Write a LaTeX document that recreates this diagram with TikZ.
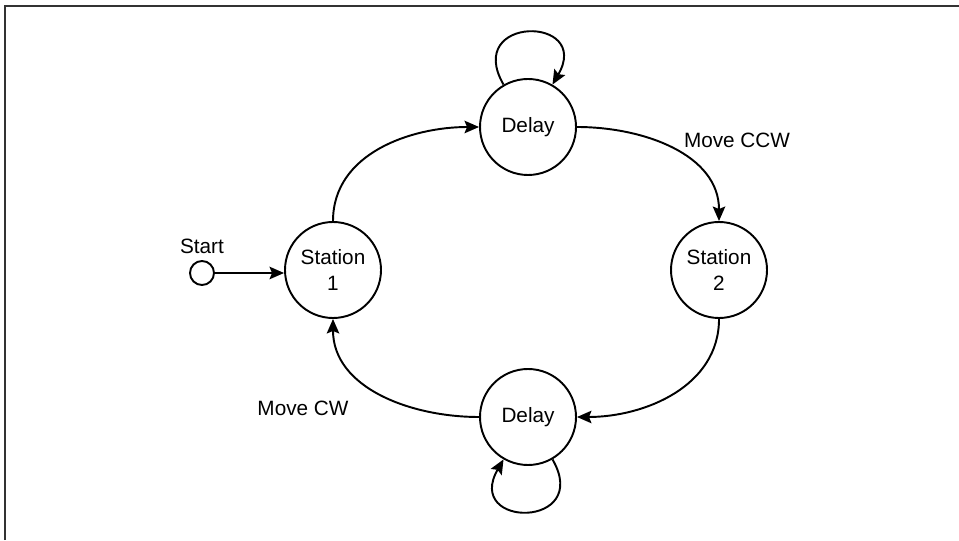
\documentclass[tikz,border=0pt]{standalone}
\usepackage{fontspec}
\setmainfont{Liberation Sans}
\usetikzlibrary{arrows.meta,positioning}
\definecolor{frame}{HTML}{333333}

\begin{document}
\begin{tikzpicture}[
  state/.style={circle, draw, line width=1.1pt, minimum size=1.92cm, inner sep=0pt, align=center, font=\fontsize{11.8}{15}\selectfont},
  startdot/.style={circle, draw, line width=1.1pt, minimum size=0.48cm, inner sep=0pt},
  lbl/.style={font=\fontsize{11.8}{15}\selectfont},
  arr/.style={-{Stealth[length=2.9mm, width=2.5mm, inset=0.5mm]}, line width=1.1pt}
]
  \useasboundingbox (0,0) rectangle (19.18,10.8);
  \draw[frame, line width=1.2pt] (0.1,0) -- (0.1,10.68) -- (19.18,10.68);
  \node[state] (s1) at (6.66,5.40) {Station\\1};
  \node[state] (s2) at (14.38,5.40) {Station\\2};
  \node[state] (d1) at (10.56,8.26) {Delay};
  \node[state] (d2) at (10.56,2.46) {Delay};
  \node[startdot] (start) at (4.04,5.34) {};
  \node[lbl, above=0pt of start] (startlbl) {Start};
  \node[lbl] (ccw) at (14.74,8.0) {Move CCW};
  \node[lbl] (cw) at (6.06,2.64) {Move CW};
  \draw[arr] (start) -- (start -| s1.west);
  \draw[arr] (s1) to[out=90, in=180] (d1);
  \draw[arr] (d1) to[out=0, in=90] (s2);
  \draw[arr] (s2) to[out=270, in=0] (d2);
  \draw[arr] (d2) to[out=180, in=270] (s1);
  \draw[arr] (d1) to[out=120, in=60, looseness=4.2] (d1);
  \draw[arr] (d2) to[out=300, in=240, looseness=4.2] (d2);
\end{tikzpicture}
\end{document}
